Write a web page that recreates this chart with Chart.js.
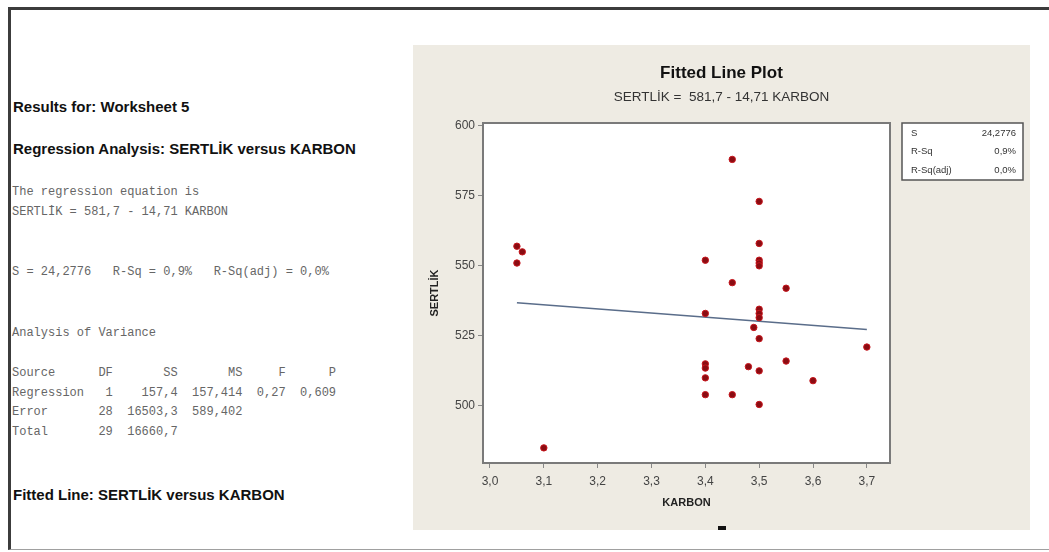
<!DOCTYPE html>
<html>
<head>
<meta charset="utf-8">
<script src="https://cdn.jsdelivr.net/npm/chart.js@4/dist/chart.umd.min.js"></script>
<style>
  body { margin: 0; background: #fff; width: 1049px; height: 552px; overflow: hidden; position: relative; }
  .frame { position: absolute; left: 8px; top: 7px; width: 1041px; height: 543px;
           border-top: 3px solid #3c3c3c; border-left: 3px solid #3c3c3c; border-bottom: 1px solid #a0a0a0; box-sizing: border-box; }
  .head { position: absolute; left: 13px; font: bold 15px "Liberation Sans", Arial, sans-serif; color: #111; white-space: nowrap; }
  .mono { position: absolute; left: 12px; font: 12px "Liberation Mono", monospace; color: #666; white-space: pre; line-height: 19.7px; }
  .panel { position: absolute; left: 413px; top: 45px; width: 617px; height: 485px; background: #eeebe3; }
  .handle { position: absolute; left: 718px; top: 526px; width: 8px; height: 4px; background: #111; }
</style>
</head>
<body>
<div class="frame"></div>

<div class="head" style="top:98px">Results for: Worksheet 5</div>
<div class="head" style="top:140px">Regression Analysis: SERTLİK versus KARBON</div>
<div class="mono" style="top:183px">The regression equation is
SERTLİK = 581,7 - 14,71 KARBON</div>
<div class="mono" style="top:263px">S = 24,2776   R-Sq = 0,9%   R-Sq(adj) = 0,0%</div>
<div class="mono" style="top:324px">Analysis of Variance</div>
<div class="mono" style="top:364px">Source      DF       SS       MS     F      P
Regression   1    157,4  157,414  0,27  0,609
Error       28  16503,3  589,402
Total       29  16660,7</div>
<div class="head" style="top:486px">Fitted Line: SERTLİK versus KARBON</div>

<div class="panel"><canvas id="fitChart" width="617" height="485"></canvas></div>
<div class="handle"></div>

<script>
// observations
const karbon = [3.05, 3.06, 3.05, 3.10,
                3.40, 3.40, 3.40, 3.40, 3.40, 3.40,
                3.45, 3.45, 3.45, 3.49, 3.48,
                3.50, 3.50, 3.50, 3.50, 3.50, 3.50, 3.50, 3.50, 3.50, 3.50, 3.50,
                3.55, 3.55, 3.60, 3.70];
const sertlik = [557, 555, 551, 485,
                 552, 533, 515, 513.5, 510, 504,
                 588, 544, 504, 528, 514,
                 573, 558, 552, 551, 550, 534.5, 533, 531.5, 524, 512.5, 500.5,
                 542, 516, 509, 521];

// fitted line: SERTLİK = 581,7 - 14,71 KARBON
const intercept = 581.7;
const slope = -14.71;
const fitRange = [3.05, 3.70];

const karbonTicks = [3.0, 3.1, 3.2, 3.3, 3.4, 3.5, 3.6, 3.7];
const sertlikTicks = [500, 525, 550, 575, 600];

const statLabels = ['S', 'R-Sq', 'R-Sq(adj)'];
const statValues = ['24,2776', '0,9%', '0,0%'];

const points = karbon.map((x, i) => ({ x: x, y: sertlik[i] }));
const fitLine = fitRange.map(x => ({ x: x, y: intercept + slope * x }));

const comma = v => v.toFixed(1).replace('.', ',');

const panelPlugin = {
  id: 'panel',
  beforeDraw(chart) {
    const { ctx, chartArea: a } = chart;
    ctx.save();
    ctx.fillStyle = '#ffffff';
    ctx.fillRect(a.left, a.top, a.right - a.left, a.bottom - a.top);
    ctx.restore();
  },
  afterDraw(chart) {
    const { ctx, chartArea: a, width } = chart;
    ctx.save();
    ctx.strokeStyle = '#7a7a7a';
    ctx.lineWidth = 2;
    ctx.strokeRect(a.left, a.top, a.right - a.left, a.bottom - a.top);

    // title + equation
    ctx.fillStyle = '#111';
    ctx.textAlign = 'center';
    ctx.textBaseline = 'middle';
    ctx.font = 'bold 17px "Liberation Sans", Arial, sans-serif';
    ctx.fillText('Fitted Line Plot', width / 2, 28);
    ctx.fillStyle = '#333';
    ctx.font = '13.5px "Liberation Sans", Arial, sans-serif';
    ctx.fillText('SERTLİK =  581,7 - 14,71 KARBON', width / 2, 52);

    // summary box
    const bx = 489, by = 78, bw = 121, bh = 57;
    ctx.fillStyle = '#ffffff';
    ctx.fillRect(bx, by, bw, bh);
    ctx.strokeStyle = '#555';
    ctx.lineWidth = 1.5;
    ctx.strokeRect(bx, by, bw, bh);
    ctx.font = '9.5px "Liberation Sans", Arial, sans-serif';
    ctx.fillStyle = '#333';
    statLabels.forEach((lab, i) => {
      const y = by + 10 + i * 18.5;
      ctx.textAlign = 'left';
      ctx.fillText(lab, bx + 9, y);
      ctx.textAlign = 'right';
      ctx.fillText(statValues[i], bx + bw - 7, y);
    });
    ctx.restore();
  }
};

new Chart(document.getElementById('fitChart'), {
  type: 'scatter',
  data: {
    datasets: [
      {
        label: 'SERTLİK',
        data: points,
        backgroundColor: '#8a0c12',
        borderColor: '#c8161d',
        borderWidth: 1,
        pointRadius: 3.2
      },
      {
        label: 'Fit',
        data: fitLine,
        showLine: true,
        borderColor: '#5a6d8a',
        borderWidth: 1.6,
        pointRadius: 0
      }
    ]
  },
  options: {
    responsive: false,
    animation: false,
    layout: { padding: { top: 78, right: 140, left: 0, bottom: 0 } },
    plugins: { legend: { display: false }, tooltip: { enabled: false } },
    scales: {
      x: {
        type: 'linear',
        min: 2.987,
        max: 3.743,
        afterBuildTicks: s => { s.ticks = karbonTicks.map(v => ({ value: v })); },
        afterFit: s => { s.height = 67; },
        grid: { display: true, drawOnChartArea: false, tickLength: 5, color: '#888' },
        border: { display: true, color: '#7a7a7a', width: 2 },
        ticks: { callback: v => comma(v), padding: 6, color: '#444',
                 font: { family: '"Liberation Sans", Arial, sans-serif', size: 12 } },
        title: { display: true, text: 'KARBON', color: '#222', padding: { top: 0, bottom: 20 },
                 font: { family: '"Liberation Sans", Arial, sans-serif', size: 11, weight: 'bold' } }
      },
      y: {
        type: 'linear',
        min: 479.6,
        max: 601,
        afterBuildTicks: s => { s.ticks = sertlikTicks.map(v => ({ value: v })); },
        afterFit: s => { s.width = 70; },
        grid: { display: true, drawOnChartArea: false, tickLength: 5, color: '#888' },
        border: { display: true, color: '#7a7a7a', width: 2 },
        ticks: { padding: 3, color: '#444',
                 font: { family: '"Liberation Sans", Arial, sans-serif', size: 12 } },
        title: { display: true, text: 'SERTLİK', color: '#222', padding: { top: 15, bottom: 0 },
                 font: { family: '"Liberation Sans", Arial, sans-serif', size: 11, weight: 'bold' } }
      }
    }
  },
  plugins: [panelPlugin]
});
</script>
</body>
</html>
